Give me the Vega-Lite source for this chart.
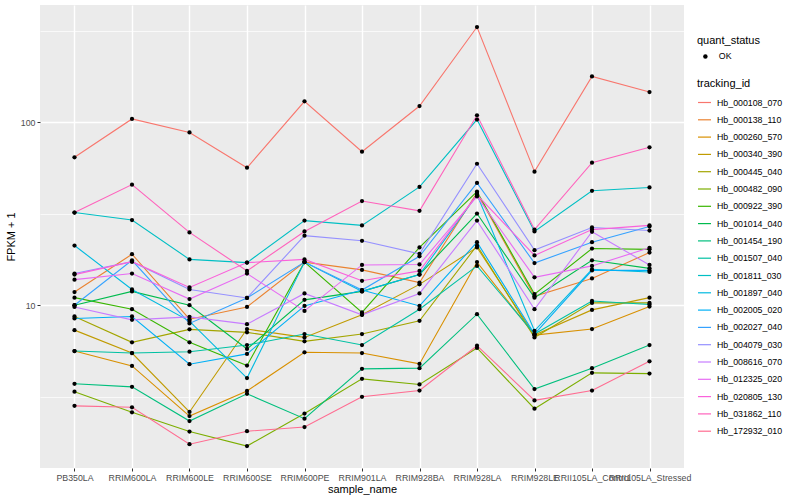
{
  "$schema": "https://vega.github.io/schema/vega-lite/v6.json",
  "width": 644,
  "height": 463,
  "autosize": {"type": "none"},
  "padding": {"left": 40, "top": 5, "right": 116, "bottom": 32},
  "background": "white",
  "config": {
    "view": {"fill": "#EBEBEB", "stroke": null},
    "font": "Liberation Sans",
    "axis": {
      "domain": false,
      "gridColor": "white",
      "gridWidth": 1.4,
      "tickColor": "#333333",
      "tickSize": 3,
      "tickWidth": 1,
      "labelColor": "#4D4D4D",
      "labelFontSize": 8.8,
      "labelFont": "Liberation Sans",
      "titleFont": "Liberation Sans",
      "titleFontSize": 11,
      "titleFontWeight": "normal",
      "titleColor": "black"
    },
    "legend": {
      "titleFont": "Liberation Sans",
      "labelFont": "Liberation Sans",
      "titleFontSize": 11,
      "titleFontWeight": "normal",
      "titleColor": "black",
      "labelFontSize": 8.8,
      "labelColor": "black",
      "padding": 0
    }
  },
  "data": {
    "values": [
      {"sample_name":"PB350LA","tracking_id":"Hb_000108_070","FPKM":64.3,"quant_status":"OK"},
      {"sample_name":"RRIM600LA","tracking_id":"Hb_000108_070","FPKM":104.2,"quant_status":"OK"},
      {"sample_name":"RRIM600LE","tracking_id":"Hb_000108_070","FPKM":87.9,"quant_status":"OK"},
      {"sample_name":"RRIM600SE","tracking_id":"Hb_000108_070","FPKM":56.4,"quant_status":"OK"},
      {"sample_name":"RRIM600PE","tracking_id":"Hb_000108_070","FPKM":130.1,"quant_status":"OK"},
      {"sample_name":"RRIM901LA","tracking_id":"Hb_000108_070","FPKM":69.0,"quant_status":"OK"},
      {"sample_name":"RRIM928BA","tracking_id":"Hb_000108_070","FPKM":122.6,"quant_status":"OK"},
      {"sample_name":"RRIM928LA","tracking_id":"Hb_000108_070","FPKM":331.2,"quant_status":"OK"},
      {"sample_name":"RRIM928LE","tracking_id":"Hb_000108_070","FPKM":53.7,"quant_status":"OK"},
      {"sample_name":"RRII105LA_Control","tracking_id":"Hb_000108_070","FPKM":177.8,"quant_status":"OK"},
      {"sample_name":"RRII105LA_Stressed","tracking_id":"Hb_000108_070","FPKM":146.1,"quant_status":"OK"},

      {"sample_name":"PB350LA","tracking_id":"Hb_000138_110","FPKM":11.8,"quant_status":"OK"},
      {"sample_name":"RRIM600LA","tracking_id":"Hb_000138_110","FPKM":19.0,"quant_status":"OK"},
      {"sample_name":"RRIM600LE","tracking_id":"Hb_000138_110","FPKM":8.39,"quant_status":"OK"},
      {"sample_name":"RRIM600SE","tracking_id":"Hb_000138_110","FPKM":9.79,"quant_status":"OK"},
      {"sample_name":"RRIM600PE","tracking_id":"Hb_000138_110","FPKM":17.2,"quant_status":"OK"},
      {"sample_name":"RRIM901LA","tracking_id":"Hb_000138_110","FPKM":15.6,"quant_status":"OK"},
      {"sample_name":"RRIM928BA","tracking_id":"Hb_000138_110","FPKM":13.3,"quant_status":"OK"},
      {"sample_name":"RRIM928LA","tracking_id":"Hb_000138_110","FPKM":41.1,"quant_status":"OK"},
      {"sample_name":"RRIM928LE","tracking_id":"Hb_000138_110","FPKM":11.2,"quant_status":"OK"},
      {"sample_name":"RRII105LA_Control","tracking_id":"Hb_000138_110","FPKM":14.0,"quant_status":"OK"},
      {"sample_name":"RRII105LA_Stressed","tracking_id":"Hb_000138_110","FPKM":19.4,"quant_status":"OK"},

      {"sample_name":"PB350LA","tracking_id":"Hb_000260_570","FPKM":5.62,"quant_status":"OK"},
      {"sample_name":"RRIM600LA","tracking_id":"Hb_000260_570","FPKM":4.66,"quant_status":"OK"},
      {"sample_name":"RRIM600LE","tracking_id":"Hb_000260_570","FPKM":2.48,"quant_status":"OK"},
      {"sample_name":"RRIM600SE","tracking_id":"Hb_000260_570","FPKM":3.40,"quant_status":"OK"},
      {"sample_name":"RRIM600PE","tracking_id":"Hb_000260_570","FPKM":5.53,"quant_status":"OK"},
      {"sample_name":"RRIM901LA","tracking_id":"Hb_000260_570","FPKM":5.48,"quant_status":"OK"},
      {"sample_name":"RRIM928BA","tracking_id":"Hb_000260_570","FPKM":4.78,"quant_status":"OK"},
      {"sample_name":"RRIM928LA","tracking_id":"Hb_000260_570","FPKM":17.2,"quant_status":"OK"},
      {"sample_name":"RRIM928LE","tracking_id":"Hb_000260_570","FPKM":6.87,"quant_status":"OK"},
      {"sample_name":"RRII105LA_Control","tracking_id":"Hb_000260_570","FPKM":7.41,"quant_status":"OK"},
      {"sample_name":"RRII105LA_Stressed","tracking_id":"Hb_000260_570","FPKM":9.84,"quant_status":"OK"},

      {"sample_name":"PB350LA","tracking_id":"Hb_000340_390","FPKM":7.31,"quant_status":"OK"},
      {"sample_name":"RRIM600LA","tracking_id":"Hb_000340_390","FPKM":5.48,"quant_status":"OK"},
      {"sample_name":"RRIM600LE","tracking_id":"Hb_000340_390","FPKM":2.61,"quant_status":"OK"},
      {"sample_name":"RRIM600SE","tracking_id":"Hb_000340_390","FPKM":7.41,"quant_status":"OK"},
      {"sample_name":"RRIM600PE","tracking_id":"Hb_000340_390","FPKM":6.67,"quant_status":"OK"},
      {"sample_name":"RRIM901LA","tracking_id":"Hb_000340_390","FPKM":8.86,"quant_status":"OK"},
      {"sample_name":"RRIM928BA","tracking_id":"Hb_000340_390","FPKM":13.0,"quant_status":"OK"},
      {"sample_name":"RRIM928LA","tracking_id":"Hb_000340_390","FPKM":20.7,"quant_status":"OK"},
      {"sample_name":"RRIM928LE","tracking_id":"Hb_000340_390","FPKM":6.87,"quant_status":"OK"},
      {"sample_name":"RRII105LA_Control","tracking_id":"Hb_000340_390","FPKM":9.43,"quant_status":"OK"},
      {"sample_name":"RRII105LA_Stressed","tracking_id":"Hb_000340_390","FPKM":11.0,"quant_status":"OK"},

      {"sample_name":"PB350LA","tracking_id":"Hb_000445_040","FPKM":8.68,"quant_status":"OK"},
      {"sample_name":"RRIM600LA","tracking_id":"Hb_000445_040","FPKM":6.27,"quant_status":"OK"},
      {"sample_name":"RRIM600LE","tracking_id":"Hb_000445_040","FPKM":7.38,"quant_status":"OK"},
      {"sample_name":"RRIM600SE","tracking_id":"Hb_000445_040","FPKM":7.11,"quant_status":"OK"},
      {"sample_name":"RRIM600PE","tracking_id":"Hb_000445_040","FPKM":6.35,"quant_status":"OK"},
      {"sample_name":"RRIM901LA","tracking_id":"Hb_000445_040","FPKM":6.96,"quant_status":"OK"},
      {"sample_name":"RRIM928BA","tracking_id":"Hb_000445_040","FPKM":8.22,"quant_status":"OK"},
      {"sample_name":"RRIM928LA","tracking_id":"Hb_000445_040","FPKM":21.2,"quant_status":"OK"},
      {"sample_name":"RRIM928LE","tracking_id":"Hb_000445_040","FPKM":6.67,"quant_status":"OK"},
      {"sample_name":"RRII105LA_Control","tracking_id":"Hb_000445_040","FPKM":10.3,"quant_status":"OK"},
      {"sample_name":"RRII105LA_Stressed","tracking_id":"Hb_000445_040","FPKM":10.3,"quant_status":"OK"},

      {"sample_name":"PB350LA","tracking_id":"Hb_000482_090","FPKM":3.37,"quant_status":"OK"},
      {"sample_name":"RRIM600LA","tracking_id":"Hb_000482_090","FPKM":2.60,"quant_status":"OK"},
      {"sample_name":"RRIM600LE","tracking_id":"Hb_000482_090","FPKM":2.04,"quant_status":"OK"},
      {"sample_name":"RRIM600SE","tracking_id":"Hb_000482_090","FPKM":1.70,"quant_status":"OK"},
      {"sample_name":"RRIM600PE","tracking_id":"Hb_000482_090","FPKM":2.56,"quant_status":"OK"},
      {"sample_name":"RRIM901LA","tracking_id":"Hb_000482_090","FPKM":3.96,"quant_status":"OK"},
      {"sample_name":"RRIM928BA","tracking_id":"Hb_000482_090","FPKM":3.69,"quant_status":"OK"},
      {"sample_name":"RRIM928LA","tracking_id":"Hb_000482_090","FPKM":5.84,"quant_status":"OK"},
      {"sample_name":"RRIM928LE","tracking_id":"Hb_000482_090","FPKM":2.72,"quant_status":"OK"},
      {"sample_name":"RRII105LA_Control","tracking_id":"Hb_000482_090","FPKM":4.27,"quant_status":"OK"},
      {"sample_name":"RRII105LA_Stressed","tracking_id":"Hb_000482_090","FPKM":4.23,"quant_status":"OK"},

      {"sample_name":"PB350LA","tracking_id":"Hb_000922_390","FPKM":11.0,"quant_status":"OK"},
      {"sample_name":"RRIM600LA","tracking_id":"Hb_000922_390","FPKM":9.51,"quant_status":"OK"},
      {"sample_name":"RRIM600LE","tracking_id":"Hb_000922_390","FPKM":6.27,"quant_status":"OK"},
      {"sample_name":"RRIM600SE","tracking_id":"Hb_000922_390","FPKM":4.68,"quant_status":"OK"},
      {"sample_name":"RRIM600PE","tracking_id":"Hb_000922_390","FPKM":17.2,"quant_status":"OK"},
      {"sample_name":"RRIM901LA","tracking_id":"Hb_000922_390","FPKM":9.13,"quant_status":"OK"},
      {"sample_name":"RRIM928BA","tracking_id":"Hb_000922_390","FPKM":20.7,"quant_status":"OK"},
      {"sample_name":"RRIM928LA","tracking_id":"Hb_000922_390","FPKM":41.8,"quant_status":"OK"},
      {"sample_name":"RRIM928LE","tracking_id":"Hb_000922_390","FPKM":11.5,"quant_status":"OK"},
      {"sample_name":"RRII105LA_Control","tracking_id":"Hb_000922_390","FPKM":20.4,"quant_status":"OK"},
      {"sample_name":"RRII105LA_Stressed","tracking_id":"Hb_000922_390","FPKM":20.2,"quant_status":"OK"},

      {"sample_name":"PB350LA","tracking_id":"Hb_001014_040","FPKM":10.0,"quant_status":"OK"},
      {"sample_name":"RRIM600LA","tracking_id":"Hb_001014_040","FPKM":11.9,"quant_status":"OK"},
      {"sample_name":"RRIM600LE","tracking_id":"Hb_001014_040","FPKM":10.0,"quant_status":"OK"},
      {"sample_name":"RRIM600SE","tracking_id":"Hb_001014_040","FPKM":5.77,"quant_status":"OK"},
      {"sample_name":"RRIM600PE","tracking_id":"Hb_001014_040","FPKM":10.7,"quant_status":"OK"},
      {"sample_name":"RRIM901LA","tracking_id":"Hb_001014_040","FPKM":11.9,"quant_status":"OK"},
      {"sample_name":"RRIM928BA","tracking_id":"Hb_001014_040","FPKM":14.7,"quant_status":"OK"},
      {"sample_name":"RRIM928LA","tracking_id":"Hb_001014_040","FPKM":31.7,"quant_status":"OK"},
      {"sample_name":"RRIM928LE","tracking_id":"Hb_001014_040","FPKM":11.0,"quant_status":"OK"},
      {"sample_name":"RRII105LA_Control","tracking_id":"Hb_001014_040","FPKM":17.6,"quant_status":"OK"},
      {"sample_name":"RRII105LA_Stressed","tracking_id":"Hb_001014_040","FPKM":15.9,"quant_status":"OK"},

      {"sample_name":"PB350LA","tracking_id":"Hb_001454_190","FPKM":3.72,"quant_status":"OK"},
      {"sample_name":"RRIM600LA","tracking_id":"Hb_001454_190","FPKM":3.58,"quant_status":"OK"},
      {"sample_name":"RRIM600LE","tracking_id":"Hb_001454_190","FPKM":2.33,"quant_status":"OK"},
      {"sample_name":"RRIM600SE","tracking_id":"Hb_001454_190","FPKM":3.28,"quant_status":"OK"},
      {"sample_name":"RRIM600PE","tracking_id":"Hb_001454_190","FPKM":2.40,"quant_status":"OK"},
      {"sample_name":"RRIM901LA","tracking_id":"Hb_001454_190","FPKM":4.49,"quant_status":"OK"},
      {"sample_name":"RRIM928BA","tracking_id":"Hb_001454_190","FPKM":4.53,"quant_status":"OK"},
      {"sample_name":"RRIM928LA","tracking_id":"Hb_001454_190","FPKM":8.93,"quant_status":"OK"},
      {"sample_name":"RRIM928LE","tracking_id":"Hb_001454_190","FPKM":3.48,"quant_status":"OK"},
      {"sample_name":"RRII105LA_Control","tracking_id":"Hb_001454_190","FPKM":4.53,"quant_status":"OK"},
      {"sample_name":"RRII105LA_Stressed","tracking_id":"Hb_001454_190","FPKM":6.06,"quant_status":"OK"},

      {"sample_name":"PB350LA","tracking_id":"Hb_001507_040","FPKM":5.62,"quant_status":"OK"},
      {"sample_name":"RRIM600LA","tracking_id":"Hb_001507_040","FPKM":5.48,"quant_status":"OK"},
      {"sample_name":"RRIM600LE","tracking_id":"Hb_001507_040","FPKM":5.57,"quant_status":"OK"},
      {"sample_name":"RRIM600SE","tracking_id":"Hb_001507_040","FPKM":6.06,"quant_status":"OK"},
      {"sample_name":"RRIM600PE","tracking_id":"Hb_001507_040","FPKM":6.96,"quant_status":"OK"},
      {"sample_name":"RRIM901LA","tracking_id":"Hb_001507_040","FPKM":6.06,"quant_status":"OK"},
      {"sample_name":"RRIM928BA","tracking_id":"Hb_001507_040","FPKM":9.51,"quant_status":"OK"},
      {"sample_name":"RRIM928LA","tracking_id":"Hb_001507_040","FPKM":16.4,"quant_status":"OK"},
      {"sample_name":"RRIM928LE","tracking_id":"Hb_001507_040","FPKM":6.96,"quant_status":"OK"},
      {"sample_name":"RRII105LA_Control","tracking_id":"Hb_001507_040","FPKM":10.55,"quant_status":"OK"},
      {"sample_name":"RRII105LA_Stressed","tracking_id":"Hb_001507_040","FPKM":10.1,"quant_status":"OK"},

      {"sample_name":"PB350LA","tracking_id":"Hb_001811_030","FPKM":32.1,"quant_status":"OK"},
      {"sample_name":"RRIM600LA","tracking_id":"Hb_001811_030","FPKM":29.2,"quant_status":"OK"},
      {"sample_name":"RRIM600LE","tracking_id":"Hb_001811_030","FPKM":17.8,"quant_status":"OK"},
      {"sample_name":"RRIM600SE","tracking_id":"Hb_001811_030","FPKM":17.1,"quant_status":"OK"},
      {"sample_name":"RRIM600PE","tracking_id":"Hb_001811_030","FPKM":29.0,"quant_status":"OK"},
      {"sample_name":"RRIM901LA","tracking_id":"Hb_001811_030","FPKM":27.3,"quant_status":"OK"},
      {"sample_name":"RRIM928BA","tracking_id":"Hb_001811_030","FPKM":44.3,"quant_status":"OK"},
      {"sample_name":"RRIM928LA","tracking_id":"Hb_001811_030","FPKM":103.4,"quant_status":"OK"},
      {"sample_name":"RRIM928LE","tracking_id":"Hb_001811_030","FPKM":25.3,"quant_status":"OK"},
      {"sample_name":"RRII105LA_Control","tracking_id":"Hb_001811_030","FPKM":42.2,"quant_status":"OK"},
      {"sample_name":"RRII105LA_Stressed","tracking_id":"Hb_001811_030","FPKM":44.0,"quant_status":"OK"},

      {"sample_name":"PB350LA","tracking_id":"Hb_001897_040","FPKM":21.2,"quant_status":"OK"},
      {"sample_name":"RRIM600LA","tracking_id":"Hb_001897_040","FPKM":12.2,"quant_status":"OK"},
      {"sample_name":"RRIM600LE","tracking_id":"Hb_001897_040","FPKM":8.19,"quant_status":"OK"},
      {"sample_name":"RRIM600SE","tracking_id":"Hb_001897_040","FPKM":4.00,"quant_status":"OK"},
      {"sample_name":"RRIM600PE","tracking_id":"Hb_001897_040","FPKM":17.2,"quant_status":"OK"},
      {"sample_name":"RRIM901LA","tracking_id":"Hb_001897_040","FPKM":11.9,"quant_status":"OK"},
      {"sample_name":"RRIM928BA","tracking_id":"Hb_001897_040","FPKM":14.7,"quant_status":"OK"},
      {"sample_name":"RRIM928LA","tracking_id":"Hb_001897_040","FPKM":40.1,"quant_status":"OK"},
      {"sample_name":"RRIM928LE","tracking_id":"Hb_001897_040","FPKM":7.25,"quant_status":"OK"},
      {"sample_name":"RRII105LA_Control","tracking_id":"Hb_001897_040","FPKM":15.7,"quant_status":"OK"},
      {"sample_name":"RRII105LA_Stressed","tracking_id":"Hb_001897_040","FPKM":15.2,"quant_status":"OK"},

      {"sample_name":"PB350LA","tracking_id":"Hb_002005_020","FPKM":8.47,"quant_status":"OK"},
      {"sample_name":"RRIM600LA","tracking_id":"Hb_002005_020","FPKM":8.68,"quant_status":"OK"},
      {"sample_name":"RRIM600LE","tracking_id":"Hb_002005_020","FPKM":4.76,"quant_status":"OK"},
      {"sample_name":"RRIM600SE","tracking_id":"Hb_002005_020","FPKM":5.42,"quant_status":"OK"},
      {"sample_name":"RRIM600PE","tracking_id":"Hb_002005_020","FPKM":9.91,"quant_status":"OK"},
      {"sample_name":"RRIM901LA","tracking_id":"Hb_002005_020","FPKM":12.1,"quant_status":"OK"},
      {"sample_name":"RRIM928BA","tracking_id":"Hb_002005_020","FPKM":9.91,"quant_status":"OK"},
      {"sample_name":"RRIM928LA","tracking_id":"Hb_002005_020","FPKM":22.1,"quant_status":"OK"},
      {"sample_name":"RRIM928LE","tracking_id":"Hb_002005_020","FPKM":6.96,"quant_status":"OK"},
      {"sample_name":"RRII105LA_Control","tracking_id":"Hb_002005_020","FPKM":15.5,"quant_status":"OK"},
      {"sample_name":"RRII105LA_Stressed","tracking_id":"Hb_002005_020","FPKM":15.5,"quant_status":"OK"},

      {"sample_name":"PB350LA","tracking_id":"Hb_002027_040","FPKM":10.0,"quant_status":"OK"},
      {"sample_name":"RRIM600LA","tracking_id":"Hb_002027_040","FPKM":17.6,"quant_status":"OK"},
      {"sample_name":"RRIM600LE","tracking_id":"Hb_002027_040","FPKM":7.95,"quant_status":"OK"},
      {"sample_name":"RRIM600SE","tracking_id":"Hb_002027_040","FPKM":10.96,"quant_status":"OK"},
      {"sample_name":"RRIM600PE","tracking_id":"Hb_002027_040","FPKM":17.2,"quant_status":"OK"},
      {"sample_name":"RRIM901LA","tracking_id":"Hb_002027_040","FPKM":12.1,"quant_status":"OK"},
      {"sample_name":"RRIM928BA","tracking_id":"Hb_002027_040","FPKM":18.5,"quant_status":"OK"},
      {"sample_name":"RRIM928LA","tracking_id":"Hb_002027_040","FPKM":46.6,"quant_status":"OK"},
      {"sample_name":"RRIM928LE","tracking_id":"Hb_002027_040","FPKM":17.0,"quant_status":"OK"},
      {"sample_name":"RRII105LA_Control","tracking_id":"Hb_002027_040","FPKM":22.1,"quant_status":"OK"},
      {"sample_name":"RRII105LA_Stressed","tracking_id":"Hb_002027_040","FPKM":26.9,"quant_status":"OK"},

      {"sample_name":"PB350LA","tracking_id":"Hb_004079_030","FPKM":14.9,"quant_status":"OK"},
      {"sample_name":"RRIM600LA","tracking_id":"Hb_004079_030","FPKM":17.3,"quant_status":"OK"},
      {"sample_name":"RRIM600LE","tracking_id":"Hb_004079_030","FPKM":12.2,"quant_status":"OK"},
      {"sample_name":"RRIM600SE","tracking_id":"Hb_004079_030","FPKM":10.96,"quant_status":"OK"},
      {"sample_name":"RRIM600PE","tracking_id":"Hb_004079_030","FPKM":24.0,"quant_status":"OK"},
      {"sample_name":"RRIM901LA","tracking_id":"Hb_004079_030","FPKM":22.5,"quant_status":"OK"},
      {"sample_name":"RRIM928BA","tracking_id":"Hb_004079_030","FPKM":19.1,"quant_status":"OK"},
      {"sample_name":"RRIM928LA","tracking_id":"Hb_004079_030","FPKM":59.3,"quant_status":"OK"},
      {"sample_name":"RRIM928LE","tracking_id":"Hb_004079_030","FPKM":20.0,"quant_status":"OK"},
      {"sample_name":"RRII105LA_Control","tracking_id":"Hb_004079_030","FPKM":26.6,"quant_status":"OK"},
      {"sample_name":"RRII105LA_Stressed","tracking_id":"Hb_004079_030","FPKM":25.6,"quant_status":"OK"},

      {"sample_name":"PB350LA","tracking_id":"Hb_008616_070","FPKM":9.79,"quant_status":"OK"},
      {"sample_name":"RRIM600LA","tracking_id":"Hb_008616_070","FPKM":8.32,"quant_status":"OK"},
      {"sample_name":"RRIM600LE","tracking_id":"Hb_008616_070","FPKM":8.64,"quant_status":"OK"},
      {"sample_name":"RRIM600SE","tracking_id":"Hb_008616_070","FPKM":7.88,"quant_status":"OK"},
      {"sample_name":"RRIM600PE","tracking_id":"Hb_008616_070","FPKM":11.6,"quant_status":"OK"},
      {"sample_name":"RRIM901LA","tracking_id":"Hb_008616_070","FPKM":8.86,"quant_status":"OK"},
      {"sample_name":"RRIM928BA","tracking_id":"Hb_008616_070","FPKM":11.6,"quant_status":"OK"},
      {"sample_name":"RRIM928LA","tracking_id":"Hb_008616_070","FPKM":29.0,"quant_status":"OK"},
      {"sample_name":"RRIM928LE","tracking_id":"Hb_008616_070","FPKM":9.51,"quant_status":"OK"},
      {"sample_name":"RRII105LA_Control","tracking_id":"Hb_008616_070","FPKM":25.2,"quant_status":"OK"},
      {"sample_name":"RRII105LA_Stressed","tracking_id":"Hb_008616_070","FPKM":16.6,"quant_status":"OK"},

      {"sample_name":"PB350LA","tracking_id":"Hb_012325_020","FPKM":13.8,"quant_status":"OK"},
      {"sample_name":"RRIM600LA","tracking_id":"Hb_012325_020","FPKM":14.9,"quant_status":"OK"},
      {"sample_name":"RRIM600LE","tracking_id":"Hb_012325_020","FPKM":10.8,"quant_status":"OK"},
      {"sample_name":"RRIM600SE","tracking_id":"Hb_012325_020","FPKM":14.9,"quant_status":"OK"},
      {"sample_name":"RRIM600PE","tracking_id":"Hb_012325_020","FPKM":9.31,"quant_status":"OK"},
      {"sample_name":"RRIM901LA","tracking_id":"Hb_012325_020","FPKM":16.6,"quant_status":"OK"},
      {"sample_name":"RRIM928BA","tracking_id":"Hb_012325_020","FPKM":16.7,"quant_status":"OK"},
      {"sample_name":"RRIM928LA","tracking_id":"Hb_012325_020","FPKM":39.3,"quant_status":"OK"},
      {"sample_name":"RRIM928LE","tracking_id":"Hb_012325_020","FPKM":14.2,"quant_status":"OK"},
      {"sample_name":"RRII105LA_Control","tracking_id":"Hb_012325_020","FPKM":16.4,"quant_status":"OK"},
      {"sample_name":"RRII105LA_Stressed","tracking_id":"Hb_012325_020","FPKM":20.6,"quant_status":"OK"},

      {"sample_name":"PB350LA","tracking_id":"Hb_020805_130","FPKM":14.7,"quant_status":"OK"},
      {"sample_name":"RRIM600LA","tracking_id":"Hb_020805_130","FPKM":17.3,"quant_status":"OK"},
      {"sample_name":"RRIM600LE","tracking_id":"Hb_020805_130","FPKM":12.5,"quant_status":"OK"},
      {"sample_name":"RRIM600SE","tracking_id":"Hb_020805_130","FPKM":17.1,"quant_status":"OK"},
      {"sample_name":"RRIM600PE","tracking_id":"Hb_020805_130","FPKM":17.8,"quant_status":"OK"},
      {"sample_name":"RRIM901LA","tracking_id":"Hb_020805_130","FPKM":13.6,"quant_status":"OK"},
      {"sample_name":"RRIM928BA","tracking_id":"Hb_020805_130","FPKM":15.4,"quant_status":"OK"},
      {"sample_name":"RRIM928LA","tracking_id":"Hb_020805_130","FPKM":40.1,"quant_status":"OK"},
      {"sample_name":"RRIM928LE","tracking_id":"Hb_020805_130","FPKM":18.7,"quant_status":"OK"},
      {"sample_name":"RRII105LA_Control","tracking_id":"Hb_020805_130","FPKM":25.9,"quant_status":"OK"},
      {"sample_name":"RRII105LA_Stressed","tracking_id":"Hb_020805_130","FPKM":27.3,"quant_status":"OK"},

      {"sample_name":"PB350LA","tracking_id":"Hb_031862_110","FPKM":32.1,"quant_status":"OK"},
      {"sample_name":"RRIM600LA","tracking_id":"Hb_031862_110","FPKM":45.6,"quant_status":"OK"},
      {"sample_name":"RRIM600LE","tracking_id":"Hb_031862_110","FPKM":25.0,"quant_status":"OK"},
      {"sample_name":"RRIM600SE","tracking_id":"Hb_031862_110","FPKM":15.4,"quant_status":"OK"},
      {"sample_name":"RRIM600PE","tracking_id":"Hb_031862_110","FPKM":25.3,"quant_status":"OK"},
      {"sample_name":"RRIM901LA","tracking_id":"Hb_031862_110","FPKM":37.1,"quant_status":"OK"},
      {"sample_name":"RRIM928BA","tracking_id":"Hb_031862_110","FPKM":32.8,"quant_status":"OK"},
      {"sample_name":"RRIM928LA","tracking_id":"Hb_031862_110","FPKM":109.1,"quant_status":"OK"},
      {"sample_name":"RRIM928LE","tracking_id":"Hb_031862_110","FPKM":25.9,"quant_status":"OK"},
      {"sample_name":"RRII105LA_Control","tracking_id":"Hb_031862_110","FPKM":60.1,"quant_status":"OK"},
      {"sample_name":"RRII105LA_Stressed","tracking_id":"Hb_031862_110","FPKM":72.9,"quant_status":"OK"},

      {"sample_name":"PB350LA","tracking_id":"Hb_172932_010","FPKM":2.82,"quant_status":"OK"},
      {"sample_name":"RRIM600LA","tracking_id":"Hb_172932_010","FPKM":2.77,"quant_status":"OK"},
      {"sample_name":"RRIM600LE","tracking_id":"Hb_172932_010","FPKM":1.74,"quant_status":"OK"},
      {"sample_name":"RRIM600SE","tracking_id":"Hb_172932_010","FPKM":2.05,"quant_status":"OK"},
      {"sample_name":"RRIM600PE","tracking_id":"Hb_172932_010","FPKM":2.16,"quant_status":"OK"},
      {"sample_name":"RRIM901LA","tracking_id":"Hb_172932_010","FPKM":3.16,"quant_status":"OK"},
      {"sample_name":"RRIM928BA","tracking_id":"Hb_172932_010","FPKM":3.42,"quant_status":"OK"},
      {"sample_name":"RRIM928LA","tracking_id":"Hb_172932_010","FPKM":6.01,"quant_status":"OK"},
      {"sample_name":"RRIM928LE","tracking_id":"Hb_172932_010","FPKM":3.02,"quant_status":"OK"},
      {"sample_name":"RRII105LA_Control","tracking_id":"Hb_172932_010","FPKM":3.42,"quant_status":"OK"},
      {"sample_name":"RRII105LA_Stressed","tracking_id":"Hb_172932_010","FPKM":4.94,"quant_status":"OK"}
    ]
  },
  "encoding": {
    "x": {
      "field": "sample_name",
      "type": "nominal",
      "sort": ["PB350LA","RRIM600LA","RRIM600LE","RRIM600SE","RRIM600PE","RRIM901LA","RRIM928BA","RRIM928LA","RRIM928LE","RRII105LA_Control","RRII105LA_Stressed"],
      "scale": {"type": "point", "padding": 0.6},
      "axis": {"title": "sample_name", "labelAngle": 0, "labelOverlap": false, "labelBound": false, "labelFlush": false, "labelPadding": 2, "titlePadding": 2, "grid": true}
    },
    "y": {
      "field": "FPKM",
      "type": "quantitative",
      "scale": {"type": "log", "domain": [1.29, 437], "nice": false, "zero": false}
    }
  },
  "layer": [
    {
      "mark": {"type": "point", "opacity": 0, "size": 1},
      "encoding": {
        "y": {
          "field": "FPKM",
          "type": "quantitative",
          "axis": {"values": [3.1623, 31.623, 316.23], "grid": true, "gridWidth": 0.7, "labels": false, "ticks": false, "domain": false, "title": null, "orient": "left"}
        }
      }
    },
    {
      "mark": {"type": "line", "strokeWidth": 1.1},
      "encoding": {
        "y": {
          "field": "FPKM",
          "type": "quantitative",
          "axis": {"values": [10, 100], "format": "d", "title": "FPKM + 1", "grid": true, "orient": "left", "labelPadding": 2, "titlePadding": 4}
        },
        "color": {
          "field": "tracking_id",
          "type": "nominal",
          "scale": {
            "domain": ["Hb_000108_070","Hb_000138_110","Hb_000260_570","Hb_000340_390","Hb_000445_040","Hb_000482_090","Hb_000922_390","Hb_001014_040","Hb_001454_190","Hb_001507_040","Hb_001811_030","Hb_001897_040","Hb_002005_020","Hb_002027_040","Hb_004079_030","Hb_008616_070","Hb_012325_020","Hb_020805_130","Hb_031862_110","Hb_172932_010"],
            "range": ["#F8766D","#EA8331","#D89000","#C09B00","#A3A500","#7CAE00","#39B600","#00BB4E","#00BF7D","#00C1A3","#00BFC4","#00BAE0","#00B0F6","#35A2FF","#9590FF","#C77CFF","#E76BF3","#FA62DB","#FF62BC","#FF6C91"]
          },
          "legend": {"orient": "none", "legendX": 657, "legendY": 73, "title": "tracking_id", "symbolType": "stroke", "symbolStrokeWidth": 1.2, "symbolSize": 170, "rowPadding": 4.3, "labelOffset": 5, "titlePadding": 6}
        }
      }
    },
    {
      "mark": {"type": "point", "filled": true, "color": "black", "size": 18, "opacity": 1},
      "encoding": {
        "y": {"field": "FPKM", "type": "quantitative", "axis": null},
        "shape": {
          "field": "quant_status",
          "type": "nominal",
          "scale": {"range": ["circle"]},
          "legend": {"orient": "none", "legendX": 657, "legendY": 30, "title": "quant_status", "symbolFillColor": "black", "symbolStrokeColor": "black", "symbolSize": 20, "labelOffset": 9, "symbolOffset": 4, "titlePadding": 6}
        }
      }
    }
  ],
  "resolve": {"axis": {"y": "independent"}}
}
